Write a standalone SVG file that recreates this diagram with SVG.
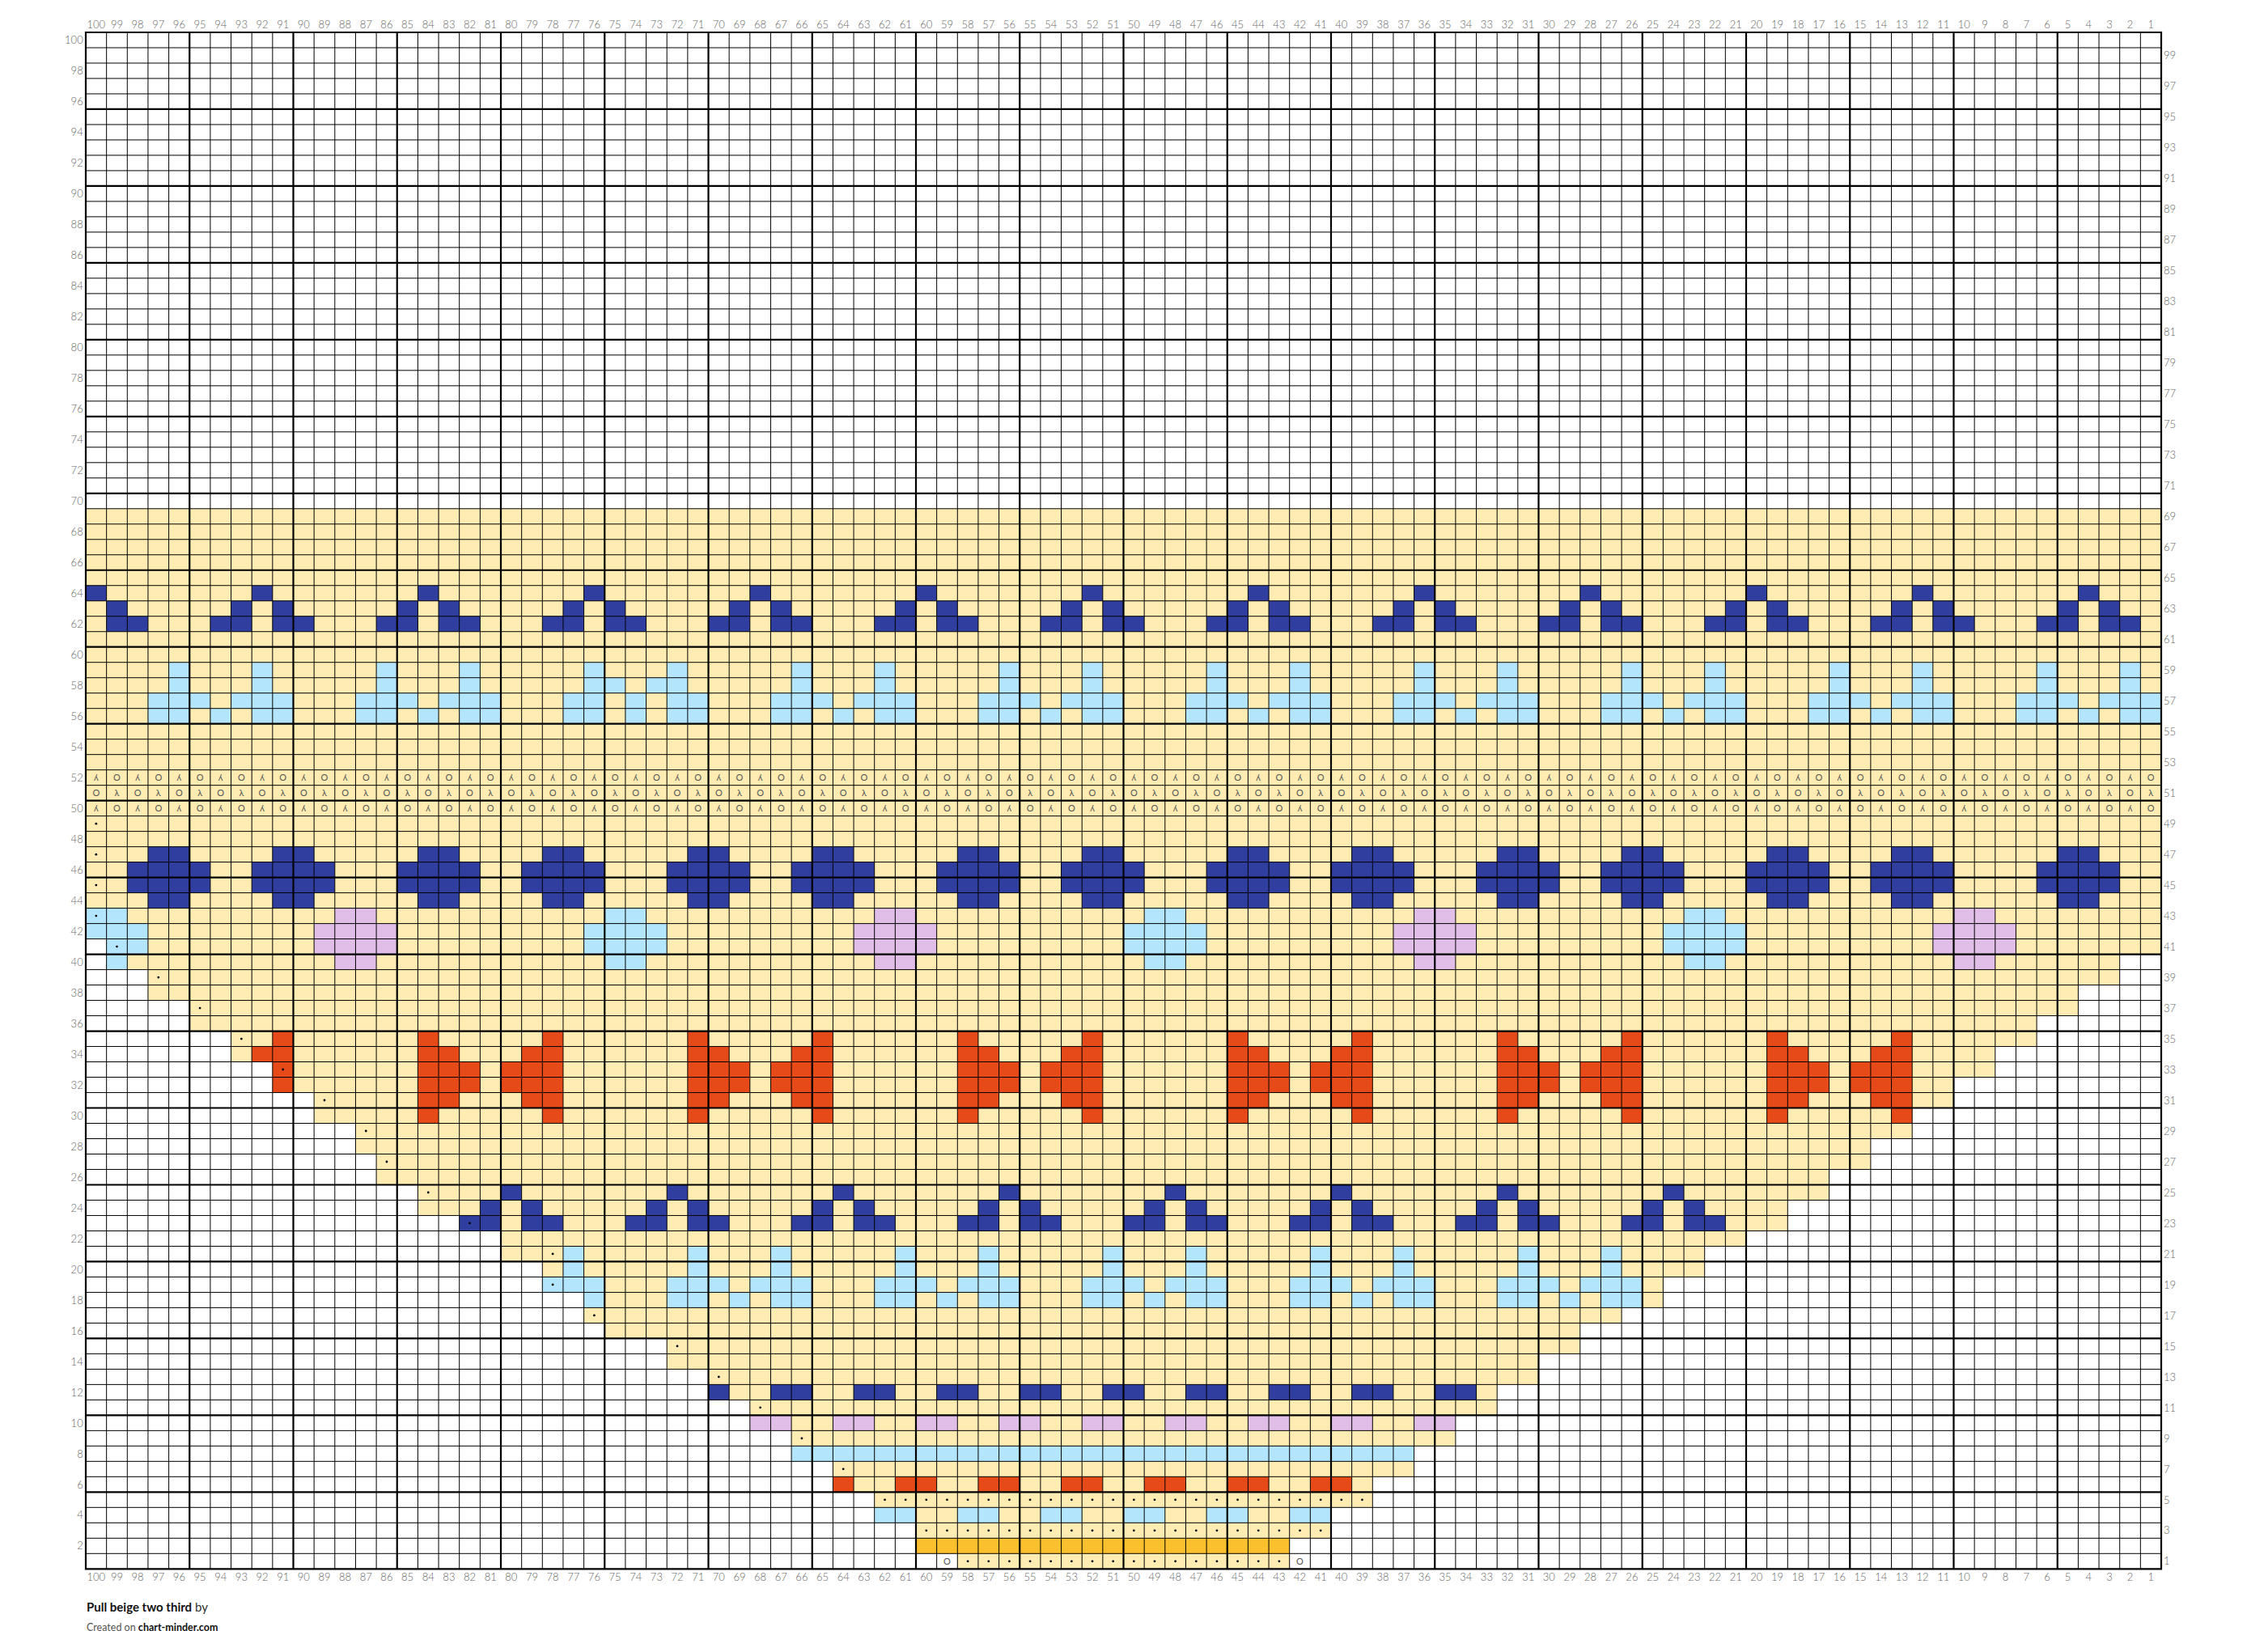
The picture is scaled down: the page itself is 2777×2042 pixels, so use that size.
<svg xmlns="http://www.w3.org/2000/svg" xmlns:xlink="http://www.w3.org/1999/xlink" width="2777" height="2042" viewBox="0 0 2777 2042">
<defs>
<style>
.lbl{font-family:Lato,"Liberation Sans",sans-serif;font-size:13px;font-weight:300;fill:#666}
.sym{font-family:Lato,"DejaVu Sans",sans-serif;font-size:11px;fill:#555}
.thin{fill:none;stroke:#000;stroke-width:1}
.thick{fill:none;stroke:#000;stroke-width:2.2;stroke-linecap:square}
</style>
<ellipse id="d" cx="0" cy="0" rx="0.055" ry="0.074" fill="#000"/>
</defs>
<rect width="2777" height="2042" fill="#fff"/>
<g id="chart" transform="translate(106 40) scale(25.65 18.993)">
<path id="yellow" fill="#FFECB3" d="M0 31h100v28h-100zM1 59h99v1h-99zM1 60h97v1h-97zM3 61h95v1h-95zM3 62h93v1h-93zM5 63h91v1h-91zM5 64h89v1h-89zM7 65h87v1h-87zM7 66h85v1h-85zM9 67h83v1h-83zM9 68h81v1h-81zM11 69h79v1h-79zM11 70h77v1h-77zM13 71h75v1h-75zM13 72h73v1h-73zM14 73h72v1h-72zM14 74h70v1h-70zM16 75h68v1h-68zM16 76h66v1h-66zM18 77h64v1h-64zM20 78h60v1h-60zM20 79h58v1h-58zM22 80h56v1h-56zM22 81h54v1h-54zM24 82h52v1h-52zM24 83h50v1h-50zM25 84h47v1h-47zM28 85h44v1h-44zM28 86h42v1h-42zM30 87h40v1h-40zM30 88h38v1h-38zM32 89h36v1h-36zM32 90h34v1h-34zM34 91h32v1h-32zM34 92h30v1h-30zM36 93h28v1h-28zM36 94h26v1h-26zM38 95h24v1h-24zM38 96h22v1h-22zM40 97h20v1h-20zM42 99h16v1h-16z"/>
<path id="gold" fill="#FBC02D" d="M40 98h18v1h-18z"/>
<path id="navy" fill="#303F9F" d="M0 36h1v1h-1zM1 37h1v1h1v1h-2zM8 36h1v1h-1zM7 37h1v2h-2v-1h1zM9 37h1v1h1v1h-2zM16 36h1v1h-1zM15 37h1v2h-2v-1h1zM17 37h1v1h1v1h-2zM24 36h1v1h-1zM23 37h1v2h-2v-1h1zM25 37h1v1h1v1h-2zM32 36h1v1h-1zM31 37h1v2h-2v-1h1zM33 37h1v1h1v1h-2zM40 36h1v1h-1zM39 37h1v2h-2v-1h1zM41 37h1v1h1v1h-2zM48 36h1v1h-1zM47 37h1v2h-2v-1h1zM49 37h1v1h1v1h-2zM56 36h1v1h-1zM55 37h1v2h-2v-1h1zM57 37h1v1h1v1h-2zM64 36h1v1h-1zM63 37h1v2h-2v-1h1zM65 37h1v1h1v1h-2zM72 36h1v1h-1zM71 37h1v2h-2v-1h1zM73 37h1v1h1v1h-2zM80 36h1v1h-1zM79 37h1v2h-2v-1h1zM81 37h1v1h1v1h-2zM88 36h1v1h-1zM87 37h1v2h-2v-1h1zM89 37h1v1h1v1h-2zM96 36h1v1h-1zM95 37h1v2h-2v-1h1zM97 37h1v1h1v1h-2z
M3 53h2v1h1v2h-1v1h-2v-1h-1v-2h1zM9 53h2v1h1v2h-1v1h-2v-1h-1v-2h1zM16 53h2v1h1v2h-1v1h-2v-1h-1v-2h1zM22 53h2v1h1v2h-1v1h-2v-1h-1v-2h1zM29 53h2v1h1v2h-1v1h-2v-1h-1v-2h1zM35 53h2v1h1v2h-1v1h-2v-1h-1v-2h1zM42 53h2v1h1v2h-1v1h-2v-1h-1v-2h1zM48 53h2v1h1v2h-1v1h-2v-1h-1v-2h1zM55 53h2v1h1v2h-1v1h-2v-1h-1v-2h1zM61 53h2v1h1v2h-1v1h-2v-1h-1v-2h1zM68 53h2v1h1v2h-1v1h-2v-1h-1v-2h1zM74 53h2v1h1v2h-1v1h-2v-1h-1v-2h1zM81 53h2v1h1v2h-1v1h-2v-1h-1v-2h1zM87 53h2v1h1v2h-1v1h-2v-1h-1v-2h1zM95 53h2v1h1v2h-1v1h-2v-1h-1v-2h1z
M20 75h1v1h-1zM19 76h1v2h-2v-1h1zM21 76h1v1h1v1h-2zM28 75h1v1h-1zM27 76h1v2h-2v-1h1zM29 76h1v1h1v1h-2zM36 75h1v1h-1zM35 76h1v2h-2v-1h1zM37 76h1v1h1v1h-2zM44 75h1v1h-1zM43 76h1v2h-2v-1h1zM45 76h1v1h1v1h-2zM52 75h1v1h-1zM51 76h1v2h-2v-1h1zM53 76h1v1h1v1h-2zM60 75h1v1h-1zM59 76h1v2h-2v-1h1zM61 76h1v1h1v1h-2zM68 75h1v1h-1zM67 76h1v2h-2v-1h1zM69 76h1v1h1v1h-2zM76 75h1v1h-1zM75 76h1v2h-2v-1h1zM77 76h1v1h1v1h-2z
M30 88h1v1h-1zM33 88h2v1h-2zM37 88h2v1h-2zM41 88h2v1h-2zM45 88h2v1h-2zM49 88h2v1h-2zM53 88h2v1h-2zM57 88h2v1h-2zM61 88h2v1h-2zM65 88h2v1h-2z"/>
<path id="lightblue" fill="#B3E5FC" d="M4 41h1v2h1v1h-1v1h-2v-2h1zM8 41h1v2h1v2h-2v-1h-1v-1h1zM6 44h1v1h-1zM14 41h1v2h1v1h-1v1h-2v-2h1zM18 41h1v2h1v2h-2v-1h-1v-1h1zM16 44h1v1h-1zM24 41h1v1h-1zM28 41h1v1h-1zM24 42h2v1h-2zM27 42h2v1h-2zM23 43h2v2h-2zM26 43h1v2h-1zM28 43h2v2h-2zM34 41h1v2h1v1h-1v1h-2v-2h1zM38 41h1v2h1v2h-2v-1h-1v-1h1zM36 44h1v1h-1zM44 41h1v2h1v1h-1v1h-2v-2h1zM48 41h1v2h1v2h-2v-1h-1v-1h1zM46 44h1v1h-1zM54 41h1v2h1v1h-1v1h-2v-2h1zM58 41h1v2h1v2h-2v-1h-1v-1h1zM56 44h1v1h-1zM64 41h1v2h1v1h-1v1h-2v-2h1zM68 41h1v2h1v2h-2v-1h-1v-1h1zM66 44h1v1h-1zM74 41h1v2h1v1h-1v1h-2v-2h1zM78 41h1v2h1v2h-2v-1h-1v-1h1zM76 44h1v1h-1zM84 41h1v2h1v1h-1v1h-2v-2h1zM88 41h1v2h1v2h-2v-1h-1v-1h1zM86 44h1v1h-1zM94 41h1v2h1v1h-1v1h-2v-2h1zM98 41h1v2h1v2h-2v-1h-1v-1h1zM96 44h1v1h-1z
M0 57h2v1h1v2h-1v1h-1v-2h-1zM25 57h2v1h1v2h-1v1h-2v-1h-1v-2h1zM51 57h2v1h1v2h-1v1h-2v-1h-1v-2h1zM77 57h2v1h1v2h-1v1h-2v-1h-1v-2h1z
M23 79h1v2h1v2h-1v-1h-2v-1h1zM29 79h1v2h1v1h-1v1h-2v-2h1zM33 79h1v2h1v2h-2v-1h-1v-1h1zM31 82h1v1h-1zM39 79h1v2h1v1h-1v1h-2v-2h1zM43 79h1v2h1v2h-2v-1h-1v-1h1zM41 82h1v1h-1zM49 79h1v2h1v1h-1v1h-2v-2h1zM53 79h1v2h1v2h-2v-1h-1v-1h1zM51 82h1v1h-1zM59 79h1v2h1v1h-1v1h-2v-2h1zM63 79h1v2h1v2h-2v-1h-1v-1h1zM61 82h1v1h-1zM69 79h1v2h1v1h-1v1h-2v-2h1zM73 79h1v2h1v2h-2v-1h-1v-1h1zM71 82h1v1h-1z
M34 92h30v1h-30zM38 96h2v1h-2zM42 96h2v1h-2zM46 96h2v1h-2zM50 96h2v1h-2zM54 96h2v1h-2zM58 96h2v1h-2z"/>
<path id="pink" fill="#E1BEE7" d="M12 57h2v1h1v2h-1v1h-2v-1h-1v-2h1zM38 57h2v1h1v2h-1v1h-2v-1h-1v-2h1zM64 57h2v1h1v2h-1v1h-2v-1h-1v-2h1zM90 57h2v1h1v2h-1v1h-2v-1h-1v-2h1zM32 90h2v1h-2zM36 90h2v1h-2zM40 90h2v1h-2zM44 90h2v1h-2zM48 90h2v1h-2zM52 90h2v1h-2zM56 90h2v1h-2zM60 90h2v1h-2zM64 90h2v1h-2z"/>
<path id="orange" fill="#E64A19" d="M9 65h1v4h-1v-2h-1v-1h1zM22 65h1v6h-1v-1h-1v-1h-1v-2h1v-1h1zM35 65h1v6h-1v-1h-1v-1h-1v-2h1v-1h1zM48 65h1v6h-1v-1h-1v-1h-1v-2h1v-1h1zM61 65h1v6h-1v-1h-1v-1h-1v-2h1v-1h1zM74 65h1v6h-1v-1h-1v-1h-1v-2h1v-1h1zM87 65h1v6h-1v-1h-1v-1h-1v-2h1v-1h1zM16 65h1v1h1v1h1v2h-1v1h-1v1h-1zM29 65h1v1h1v1h1v2h-1v1h-1v1h-1zM42 65h1v1h1v1h1v2h-1v1h-1v1h-1zM55 65h1v1h1v1h1v2h-1v1h-1v1h-1zM68 65h1v1h1v1h1v2h-1v1h-1v1h-1zM81 65h1v1h1v1h1v2h-1v1h-1v1h-1zM36 94h1v1h-1zM39 94h2v1h-2zM43 94h2v1h-2zM47 94h2v1h-2zM51 94h2v1h-2zM55 94h2v1h-2zM59 94h2v1h-2z"/>
<g id="dots">
<use href="#d" x="0.5" y="51.5"/><use href="#d" x="0.5" y="53.5"/><use href="#d" x="0.5" y="55.5"/><use href="#d" x="0.5" y="57.5"/><use href="#d" x="1.5" y="59.5"/><use href="#d" x="3.5" y="61.5"/><use href="#d" x="5.5" y="63.5"/><use href="#d" x="7.5" y="65.5"/><use href="#d" x="9.5" y="67.5"/><use href="#d" x="11.5" y="69.5"/><use href="#d" x="13.5" y="71.5"/><use href="#d" x="14.5" y="73.5"/><use href="#d" x="16.5" y="75.5"/><use href="#d" x="18.5" y="77.5"/><use href="#d" x="22.5" y="79.5"/><use href="#d" x="22.5" y="81.5"/><use href="#d" x="24.5" y="83.5"/><use href="#d" x="28.5" y="85.5"/><use href="#d" x="30.5" y="87.5"/><use href="#d" x="32.5" y="89.5"/><use href="#d" x="34.5" y="91.5"/><use href="#d" x="36.5" y="93.5"/>
<use href="#d" x="38.5" y="95.5"/><use href="#d" x="39.5" y="95.5"/><use href="#d" x="40.5" y="95.5"/><use href="#d" x="41.5" y="95.5"/><use href="#d" x="42.5" y="95.5"/><use href="#d" x="43.5" y="95.5"/><use href="#d" x="44.5" y="95.5"/><use href="#d" x="45.5" y="95.5"/><use href="#d" x="46.5" y="95.5"/><use href="#d" x="47.5" y="95.5"/><use href="#d" x="48.5" y="95.5"/><use href="#d" x="49.5" y="95.5"/><use href="#d" x="50.5" y="95.5"/><use href="#d" x="51.5" y="95.5"/><use href="#d" x="52.5" y="95.5"/><use href="#d" x="53.5" y="95.5"/><use href="#d" x="54.5" y="95.5"/><use href="#d" x="55.5" y="95.5"/><use href="#d" x="56.5" y="95.5"/><use href="#d" x="57.5" y="95.5"/><use href="#d" x="58.5" y="95.5"/><use href="#d" x="59.5" y="95.5"/><use href="#d" x="60.5" y="95.5"/><use href="#d" x="61.5" y="95.5"/>
<use href="#d" x="40.5" y="97.5"/><use href="#d" x="41.5" y="97.5"/><use href="#d" x="42.5" y="97.5"/><use href="#d" x="43.5" y="97.5"/><use href="#d" x="44.5" y="97.5"/><use href="#d" x="45.5" y="97.5"/><use href="#d" x="46.5" y="97.5"/><use href="#d" x="47.5" y="97.5"/><use href="#d" x="48.5" y="97.5"/><use href="#d" x="49.5" y="97.5"/><use href="#d" x="50.5" y="97.5"/><use href="#d" x="51.5" y="97.5"/><use href="#d" x="52.5" y="97.5"/><use href="#d" x="53.5" y="97.5"/><use href="#d" x="54.5" y="97.5"/><use href="#d" x="55.5" y="97.5"/><use href="#d" x="56.5" y="97.5"/><use href="#d" x="57.5" y="97.5"/><use href="#d" x="58.5" y="97.5"/><use href="#d" x="59.5" y="97.5"/>
<use href="#d" x="42.5" y="99.5"/><use href="#d" x="43.5" y="99.5"/><use href="#d" x="44.5" y="99.5"/><use href="#d" x="45.5" y="99.5"/><use href="#d" x="46.5" y="99.5"/><use href="#d" x="47.5" y="99.5"/><use href="#d" x="48.5" y="99.5"/><use href="#d" x="49.5" y="99.5"/><use href="#d" x="50.5" y="99.5"/><use href="#d" x="51.5" y="99.5"/><use href="#d" x="52.5" y="99.5"/><use href="#d" x="53.5" y="99.5"/><use href="#d" x="54.5" y="99.5"/><use href="#d" x="55.5" y="99.5"/><use href="#d" x="56.5" y="99.5"/><use href="#d" x="57.5" y="99.5"/>
</g>
<path class="thin" vector-effect="non-scaling-stroke" d="M1 0V100M2 0V100M3 0V100M4 0V100M6 0V100M7 0V100M8 0V100M9 0V100M11 0V100M12 0V100M13 0V100M14 0V100M16 0V100M17 0V100M18 0V100M19 0V100M21 0V100M22 0V100M23 0V100M24 0V100M26 0V100M27 0V100M28 0V100M29 0V100M31 0V100M32 0V100M33 0V100M34 0V100M36 0V100M37 0V100M38 0V100M39 0V100M41 0V100M42 0V100M43 0V100M44 0V100M46 0V100M47 0V100M48 0V100M49 0V100M51 0V100M52 0V100M53 0V100M54 0V100M56 0V100M57 0V100M58 0V100M59 0V100M61 0V100M62 0V100M63 0V100M64 0V100M66 0V100M67 0V100M68 0V100M69 0V100M71 0V100M72 0V100M73 0V100M74 0V100M76 0V100M77 0V100M78 0V100M79 0V100M81 0V100M82 0V100M83 0V100M84 0V100M86 0V100M87 0V100M88 0V100M89 0V100M91 0V100M92 0V100M93 0V100M94 0V100M96 0V100M97 0V100M98 0V100M99 0V100M0 1H100M0 2H100M0 3H100M0 4H100M0 6H100M0 7H100M0 8H100M0 9H100M0 11H100M0 12H100M0 13H100M0 14H100M0 16H100M0 17H100M0 18H100M0 19H100M0 21H100M0 22H100M0 23H100M0 24H100M0 26H100M0 27H100M0 28H100M0 29H100M0 31H100M0 32H100M0 33H100M0 34H100M0 36H100M0 37H100M0 38H100M0 39H100M0 41H100M0 42H100M0 43H100M0 44H100M0 46H100M0 47H100M0 48H100M0 49H100M0 51H100M0 52H100M0 53H100M0 54H100M0 56H100M0 57H100M0 58H100M0 59H100M0 61H100M0 62H100M0 63H100M0 64H100M0 66H100M0 67H100M0 68H100M0 69H100M0 71H100M0 72H100M0 73H100M0 74H100M0 76H100M0 77H100M0 78H100M0 79H100M0 81H100M0 82H100M0 83H100M0 84H100M0 86H100M0 87H100M0 88H100M0 89H100M0 91H100M0 92H100M0 93H100M0 94H100M0 96H100M0 97H100M0 98H100M0 99H100"/>
<path class="thick" vector-effect="non-scaling-stroke" d="M0 0V100M5 0V100M10 0V100M15 0V100M20 0V100M25 0V100M30 0V100M35 0V100M40 0V100M45 0V100M50 0V100M55 0V100M60 0V100M65 0V100M70 0V100M75 0V100M80 0V100M85 0V100M90 0V100M95 0V100M100 0V100M0 0H100M0 5H100M0 10H100M0 15H100M0 20H100M0 25H100M0 30H100M0 35H100M0 40H100M0 45H100M0 50H100M0 55H100M0 60H100M0 65H100M0 70H100M0 75H100M0 80H100M0 85H100M0 90H100M0 95H100M0 100H100"/>
</g>
<g id="symbols" class="sym" text-anchor="middle">
<text x="118.8 144.5 170.1 195.8 221.4 247.1 272.7 298.4 324 349.7 375.3 401 426.6 452.3 477.9 503.6 529.2 554.9 580.5 606.2 631.8 657.5 683.1 708.8 734.4 760.1 785.7 811.4 837 862.7 888.3 914 939.6 965.3 990.9 1016.6 1042.2 1067.9 1093.5 1119.2 1144.8 1170.5 1196.1 1221.8 1247.4 1273.1 1298.7 1324.4 1350 1375.7 1401.3 1427 1452.6 1478.3 1503.9 1529.6 1555.2 1580.9 1606.5 1632.2 1657.8 1683.5 1709.1 1734.8 1760.4 1786.1 1811.7 1837.4 1863 1888.7 1914.3 1940 1965.6 1991.3 2016.9 2042.6 2068.2 2093.9 2119.5 2145.2 2170.8 2196.5 2222.1 2247.8 2273.4 2299.1 2324.7 2350.4 2376 2401.7 2427.3 2453 2478.6 2504.3 2529.9 2555.6 2581.2 2606.9 2632.5 2658.2" y="965.2">ʎOʎOʎOʎOʎOʎOʎOʎOʎOʎOʎOʎOʎOʎOʎOʎOʎOʎOʎOʎOʎOʎOʎOʎOʎOʎOʎOʎOʎOʎOʎOʎOʎOʎOʎOʎOʎOʎOʎOʎOʎOʎOʎOʎOʎOʎOʎOʎOʎOʎO</text>
<text x="118.8 144.5 170.1 195.8 221.4 247.1 272.7 298.4 324 349.7 375.3 401 426.6 452.3 477.9 503.6 529.2 554.9 580.5 606.2 631.8 657.5 683.1 708.8 734.4 760.1 785.7 811.4 837 862.7 888.3 914 939.6 965.3 990.9 1016.6 1042.2 1067.9 1093.5 1119.2 1144.8 1170.5 1196.1 1221.8 1247.4 1273.1 1298.7 1324.4 1350 1375.7 1401.3 1427 1452.6 1478.3 1503.9 1529.6 1555.2 1580.9 1606.5 1632.2 1657.8 1683.5 1709.1 1734.8 1760.4 1786.1 1811.7 1837.4 1863 1888.7 1914.3 1940 1965.6 1991.3 2016.9 2042.6 2068.2 2093.9 2119.5 2145.2 2170.8 2196.5 2222.1 2247.8 2273.4 2299.1 2324.7 2350.4 2376 2401.7 2427.3 2453 2478.6 2504.3 2529.9 2555.6 2581.2 2606.9 2632.5 2658.2" y="984.2">OλOλOλOλOλOλOλOλOλOλOλOλOλOλOλOλOλOλOλOλOλOλOλOλOλOλOλOλOλOλOλOλOλOλOλOλOλOλOλOλOλOλOλOλOλOλOλOλOλOλ</text>
<text x="118.8 144.5 170.1 195.8 221.4 247.1 272.7 298.4 324 349.7 375.3 401 426.6 452.3 477.9 503.6 529.2 554.9 580.5 606.2 631.8 657.5 683.1 708.8 734.4 760.1 785.7 811.4 837 862.7 888.3 914 939.6 965.3 990.9 1016.6 1042.2 1067.9 1093.5 1119.2 1144.8 1170.5 1196.1 1221.8 1247.4 1273.1 1298.7 1324.4 1350 1375.7 1401.3 1427 1452.6 1478.3 1503.9 1529.6 1555.2 1580.9 1606.5 1632.2 1657.8 1683.5 1709.1 1734.8 1760.4 1786.1 1811.7 1837.4 1863 1888.7 1914.3 1940 1965.6 1991.3 2016.9 2042.6 2068.2 2093.9 2119.5 2145.2 2170.8 2196.5 2222.1 2247.8 2273.4 2299.1 2324.7 2350.4 2376 2401.7 2427.3 2453 2478.6 2504.3 2529.9 2555.6 2581.2 2606.9 2632.5 2658.2" y="1003.2">ʎOʎOʎOʎOʎOʎOʎOʎOʎOʎOʎOʎOʎOʎOʎOʎOʎOʎOʎOʎOʎOʎOʎOʎOʎOʎOʎOʎOʎOʎOʎOʎOʎOʎOʎOʎOʎOʎOʎOʎOʎOʎOʎOʎOʎOʎOʎOʎOʎOʎO</text>
<text x="1170.5" y="1933.8">O</text>
<text x="1606.5" y="1933.8">O</text>
</g>
<g id="col-labels-top" class="lbl" text-anchor="middle" transform="translate(0 35.3)">
<text x="118.8">100</text><text x="144.5">99</text><text x="170.1">98</text><text x="195.8">97</text><text x="221.4">96</text><text x="247.1">95</text><text x="272.7">94</text><text x="298.4">93</text><text x="324">92</text><text x="349.7">91</text><text x="375.3">90</text><text x="401">89</text><text x="426.6">88</text><text x="452.3">87</text><text x="477.9">86</text><text x="503.6">85</text><text x="529.2">84</text><text x="554.9">83</text><text x="580.5">82</text><text x="606.2">81</text><text x="631.8">80</text><text x="657.5">79</text><text x="683.1">78</text><text x="708.8">77</text><text x="734.4">76</text><text x="760.1">75</text><text x="785.7">74</text><text x="811.4">73</text><text x="837">72</text><text x="862.7">71</text><text x="888.3">70</text><text x="914">69</text><text x="939.6">68</text><text x="965.3">67</text><text x="990.9">66</text><text x="1016.6">65</text><text x="1042.2">64</text><text x="1067.9">63</text><text x="1093.5">62</text><text x="1119.2">61</text><text x="1144.8">60</text><text x="1170.5">59</text><text x="1196.1">58</text><text x="1221.8">57</text><text x="1247.4">56</text><text x="1273.1">55</text><text x="1298.7">54</text><text x="1324.4">53</text><text x="1350">52</text><text x="1375.7">51</text><text x="1401.3">50</text><text x="1427">49</text><text x="1452.6">48</text><text x="1478.3">47</text><text x="1503.9">46</text><text x="1529.6">45</text><text x="1555.2">44</text><text x="1580.9">43</text><text x="1606.5">42</text><text x="1632.2">41</text><text x="1657.8">40</text><text x="1683.5">39</text><text x="1709.1">38</text><text x="1734.8">37</text><text x="1760.4">36</text><text x="1786.1">35</text><text x="1811.7">34</text><text x="1837.4">33</text><text x="1863">32</text><text x="1888.7">31</text><text x="1914.3">30</text><text x="1940">29</text><text x="1965.6">28</text><text x="1991.3">27</text><text x="2016.9">26</text><text x="2042.6">25</text><text x="2068.2">24</text><text x="2093.9">23</text><text x="2119.5">22</text><text x="2145.2">21</text><text x="2170.8">20</text><text x="2196.5">19</text><text x="2222.1">18</text><text x="2247.8">17</text><text x="2273.4">16</text><text x="2299.1">15</text><text x="2324.7">14</text><text x="2350.4">13</text><text x="2376">12</text><text x="2401.7">11</text><text x="2427.3">10</text><text x="2453">9</text><text x="2478.6">8</text><text x="2504.3">7</text><text x="2529.9">6</text><text x="2555.6">5</text><text x="2581.2">4</text><text x="2606.9">3</text><text x="2632.5">2</text><text x="2658.2">1</text>
</g>
<g id="col-labels-bottom" class="lbl" text-anchor="middle" transform="translate(0 1954)">
<text x="118.8">100</text><text x="144.5">99</text><text x="170.1">98</text><text x="195.8">97</text><text x="221.4">96</text><text x="247.1">95</text><text x="272.7">94</text><text x="298.4">93</text><text x="324">92</text><text x="349.7">91</text><text x="375.3">90</text><text x="401">89</text><text x="426.6">88</text><text x="452.3">87</text><text x="477.9">86</text><text x="503.6">85</text><text x="529.2">84</text><text x="554.9">83</text><text x="580.5">82</text><text x="606.2">81</text><text x="631.8">80</text><text x="657.5">79</text><text x="683.1">78</text><text x="708.8">77</text><text x="734.4">76</text><text x="760.1">75</text><text x="785.7">74</text><text x="811.4">73</text><text x="837">72</text><text x="862.7">71</text><text x="888.3">70</text><text x="914">69</text><text x="939.6">68</text><text x="965.3">67</text><text x="990.9">66</text><text x="1016.6">65</text><text x="1042.2">64</text><text x="1067.9">63</text><text x="1093.5">62</text><text x="1119.2">61</text><text x="1144.8">60</text><text x="1170.5">59</text><text x="1196.1">58</text><text x="1221.8">57</text><text x="1247.4">56</text><text x="1273.1">55</text><text x="1298.7">54</text><text x="1324.4">53</text><text x="1350">52</text><text x="1375.7">51</text><text x="1401.3">50</text><text x="1427">49</text><text x="1452.6">48</text><text x="1478.3">47</text><text x="1503.9">46</text><text x="1529.6">45</text><text x="1555.2">44</text><text x="1580.9">43</text><text x="1606.5">42</text><text x="1632.2">41</text><text x="1657.8">40</text><text x="1683.5">39</text><text x="1709.1">38</text><text x="1734.8">37</text><text x="1760.4">36</text><text x="1786.1">35</text><text x="1811.7">34</text><text x="1837.4">33</text><text x="1863">32</text><text x="1888.7">31</text><text x="1914.3">30</text><text x="1940">29</text><text x="1965.6">28</text><text x="1991.3">27</text><text x="2016.9">26</text><text x="2042.6">25</text><text x="2068.2">24</text><text x="2093.9">23</text><text x="2119.5">22</text><text x="2145.2">21</text><text x="2170.8">20</text><text x="2196.5">19</text><text x="2222.1">18</text><text x="2247.8">17</text><text x="2273.4">16</text><text x="2299.1">15</text><text x="2324.7">14</text><text x="2350.4">13</text><text x="2376">12</text><text x="2401.7">11</text><text x="2427.3">10</text><text x="2453">9</text><text x="2478.6">8</text><text x="2504.3">7</text><text x="2529.9">6</text><text x="2555.6">5</text><text x="2581.2">4</text><text x="2606.9">3</text><text x="2632.5">2</text><text x="2658.2">1</text>
</g>
<g id="row-labels-left" class="lbl" text-anchor="end" transform="translate(0 4.7)">
<text x="102.7" y="49.5">100</text><text x="102.7" y="87.5">98</text><text x="102.7" y="125.5">96</text><text x="102.7" y="163.5">94</text><text x="102.7" y="201.4">92</text><text x="102.7" y="239.4">90</text><text x="102.7" y="277.4">88</text><text x="102.7" y="315.4">86</text><text x="102.7" y="353.4">84</text><text x="102.7" y="391.4">82</text><text x="102.7" y="429.4">80</text><text x="102.7" y="467.3">78</text><text x="102.7" y="505.3">76</text><text x="102.7" y="543.3">74</text><text x="102.7" y="581.3">72</text><text x="102.7" y="619.3">70</text><text x="102.7" y="657.3">68</text><text x="102.7" y="695.3">66</text><text x="102.7" y="733.2">64</text><text x="102.7" y="771.2">62</text><text x="102.7" y="809.2">60</text><text x="102.7" y="847.2">58</text><text x="102.7" y="885.2">56</text><text x="102.7" y="923.2">54</text><text x="102.7" y="961.2">52</text><text x="102.7" y="999.2">50</text><text x="102.7" y="1037.1">48</text><text x="102.7" y="1075.1">46</text><text x="102.7" y="1113.1">44</text><text x="102.7" y="1151.1">42</text><text x="102.7" y="1189.1">40</text><text x="102.7" y="1227.1">38</text><text x="102.7" y="1265.1">36</text><text x="102.7" y="1303">34</text><text x="102.7" y="1341">32</text><text x="102.7" y="1379">30</text><text x="102.7" y="1417">28</text><text x="102.7" y="1455">26</text><text x="102.7" y="1493">24</text><text x="102.7" y="1531">22</text><text x="102.7" y="1569">20</text><text x="102.7" y="1606.9">18</text><text x="102.7" y="1644.9">16</text><text x="102.7" y="1682.9">14</text><text x="102.7" y="1720.9">12</text><text x="102.7" y="1758.9">10</text><text x="102.7" y="1796.9">8</text><text x="102.7" y="1834.9">6</text><text x="102.7" y="1872.8">4</text><text x="102.7" y="1910.8">2</text>
</g>
<g id="row-labels-right" class="lbl" text-anchor="start" transform="translate(0 4.7)">
<text x="2674" y="68.5">99</text><text x="2674" y="106.5">97</text><text x="2674" y="144.5">95</text><text x="2674" y="182.5">93</text><text x="2674" y="220.4">91</text><text x="2674" y="258.4">89</text><text x="2674" y="296.4">87</text><text x="2674" y="334.4">85</text><text x="2674" y="372.4">83</text><text x="2674" y="410.4">81</text><text x="2674" y="448.4">79</text><text x="2674" y="486.3">77</text><text x="2674" y="524.3">75</text><text x="2674" y="562.3">73</text><text x="2674" y="600.3">71</text><text x="2674" y="638.3">69</text><text x="2674" y="676.3">67</text><text x="2674" y="714.3">65</text><text x="2674" y="752.2">63</text><text x="2674" y="790.2">61</text><text x="2674" y="828.2">59</text><text x="2674" y="866.2">57</text><text x="2674" y="904.2">55</text><text x="2674" y="942.2">53</text><text x="2674" y="980.2">51</text><text x="2674" y="1018.1">49</text><text x="2674" y="1056.1">47</text><text x="2674" y="1094.1">45</text><text x="2674" y="1132.1">43</text><text x="2674" y="1170.1">41</text><text x="2674" y="1208.1">39</text><text x="2674" y="1246.1">37</text><text x="2674" y="1284">35</text><text x="2674" y="1322">33</text><text x="2674" y="1360">31</text><text x="2674" y="1398">29</text><text x="2674" y="1436">27</text><text x="2674" y="1474">25</text><text x="2674" y="1512">23</text><text x="2674" y="1550">21</text><text x="2674" y="1587.9">19</text><text x="2674" y="1625.9">17</text><text x="2674" y="1663.9">15</text><text x="2674" y="1701.9">13</text><text x="2674" y="1739.9">11</text><text x="2674" y="1777.9">9</text><text x="2674" y="1815.9">7</text><text x="2674" y="1853.9">5</text><text x="2674" y="1891.8">3</text><text x="2674" y="1929.8">1</text>
</g>
<g id="footer" font-family="Lato, 'Liberation Sans', sans-serif">
<text x="107" y="1991.5" font-size="15"><tspan font-weight="700" fill="#111">Pull beige two third</tspan><tspan fill="#333"> by</tspan></text>
<text x="107" y="2015.5" font-size="12.5"><tspan fill="#555">Created on </tspan><tspan font-weight="700" fill="#111">chart-minder.com</tspan></text>
</g>
</svg>
